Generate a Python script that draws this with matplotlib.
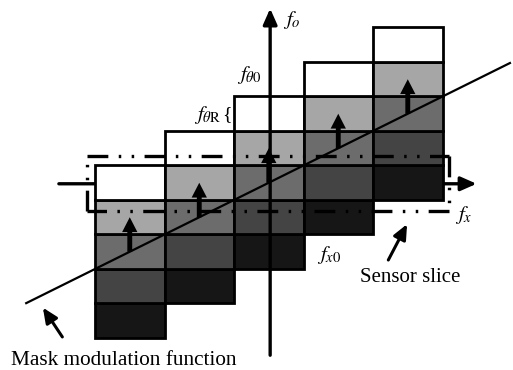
import matplotlib
matplotlib.use("Agg")
import matplotlib.pyplot as plt

plt.rcParams['mathtext.fontset'] = 'stix'
plt.rcParams['font.family'] = ['Liberation Serif', 'DejaVu Serif']
plt.rcParams['lines.scale_dashes'] = False

# ---- diagram data (column units horizontally, row units vertically) ----
col_index = [0, 1, 2, 3, 4]
col_base = [0, 1, 2, 3, 4]            # bottom row of each staircase column
shades = ['#161616', '#444444', '#6c6c6c', '#a6a6a6', '#ffffff']  # bottom -> top
mask_x = [-0.99, 5.97]
mask_y = [1.01, 7.97]
arrow_x = [0.5, 1.5, 2.5, 3.5, 4.5]
arrow_y0 = [2.5, 3.5, 4.5, 5.5, 6.5]
arrow_y1 = [3.5, 4.5, 5.5, 6.5, 7.5]
slice_x = [-0.11, 5.09, 5.09, -0.11, -0.11]
slice_y = [5.27, 5.27, 3.67, 3.67, 5.27]

fig = plt.figure(figsize=(5.13, 3.70), dpi=100)
ax = fig.add_axes([0, 0, 1, 1])
ax.set_xlim(-1.367, 6.014)
ax.set_ylim(-0.928, 9.797)
ax.axis('off')

# horizontal axis (behind cells)
ax.annotate('', xy=(5.49, 4.47), xytext=(-0.52, 4.47),
            arrowprops=dict(arrowstyle='-|>,head_length=0.95,head_width=0.42',
                            lw=2.4, color='black', shrinkA=0, shrinkB=0), zorder=1)

# staircase cells
for ci, base in zip(col_index, col_base):
    for k, c in enumerate(shades):
        ax.bar(ci, 1, bottom=base + k, width=1, align='edge', color=c,
               edgecolor='black', linewidth=2.0, zorder=2)

# vertical axis (on top of cells)
ax.annotate('', xy=(2.52, 9.55), xytext=(2.52, -0.5),
            arrowprops=dict(arrowstyle='-|>,head_length=0.95,head_width=0.42',
                            lw=2.4, color='black', shrinkA=0, shrinkB=0), zorder=3)

# sensor slice (dash-dot-dot rectangle), each side starting at a corner
for j in range(4):
    ax.plot(slice_x[j:j + 2], slice_y[j:j + 2], color='black', lw=2.4,
            dashes=(15, 7.5, 1.8, 7.5, 1.8, 7.5),
            dash_capstyle='butt', zorder=4)

# mask modulation function line
ax.plot(mask_x, mask_y, color='black', lw=1.6, zorder=4)

# modulation arrows
for x, y0, y1 in zip(arrow_x, arrow_y0, arrow_y1):
    ax.arrow(x, y0, 0, y1 - y0, width=0.07, head_width=0.22, head_length=0.43,
             length_includes_head=True, color='black', lw=0, zorder=5)

# labels
fs = 15
ax.text(2.70, 9.22, r'$f_o$', fontsize=fs, ha='left', va='center')
ax.text(2.04, 7.62, r'$f_{\theta 0}$', fontsize=fs, ha='left', va='center')
ax.text(1.43, 6.46, r'$f_{\theta\mathrm{R}}$', fontsize=fs, ha='left', va='center')
ax.text(1.83, 6.48, '{', fontsize=14, ha='left', va='center')
ax.text(3.19, 2.41, r'$f_{x0}$', fontsize=fs, ha='left', va='center')
ax.text(5.18, 3.57, r'$f_x$', fontsize=fs, ha='left', va='center')

ax.text(4.53, 1.74, 'Sensor slice', fontsize=15, ha='center', va='center')
ax.text(0.42, -0.64, 'Mask modulation function', fontsize=15.3, ha='center', va='center')

ax.annotate('', xy=(4.49, 3.30), xytext=(4.22, 2.26),
            arrowprops=dict(arrowstyle='-|>,head_length=0.9,head_width=0.4',
                            lw=2.2, color='black', shrinkA=0, shrinkB=0))
ax.annotate('', xy=(-0.75, 0.88), xytext=(-0.47, 0.03),
            arrowprops=dict(arrowstyle='-|>,head_length=0.9,head_width=0.4',
                            lw=2.2, color='black', shrinkA=0, shrinkB=0))

fig.savefig('out.png', dpi=100, facecolor='white')
